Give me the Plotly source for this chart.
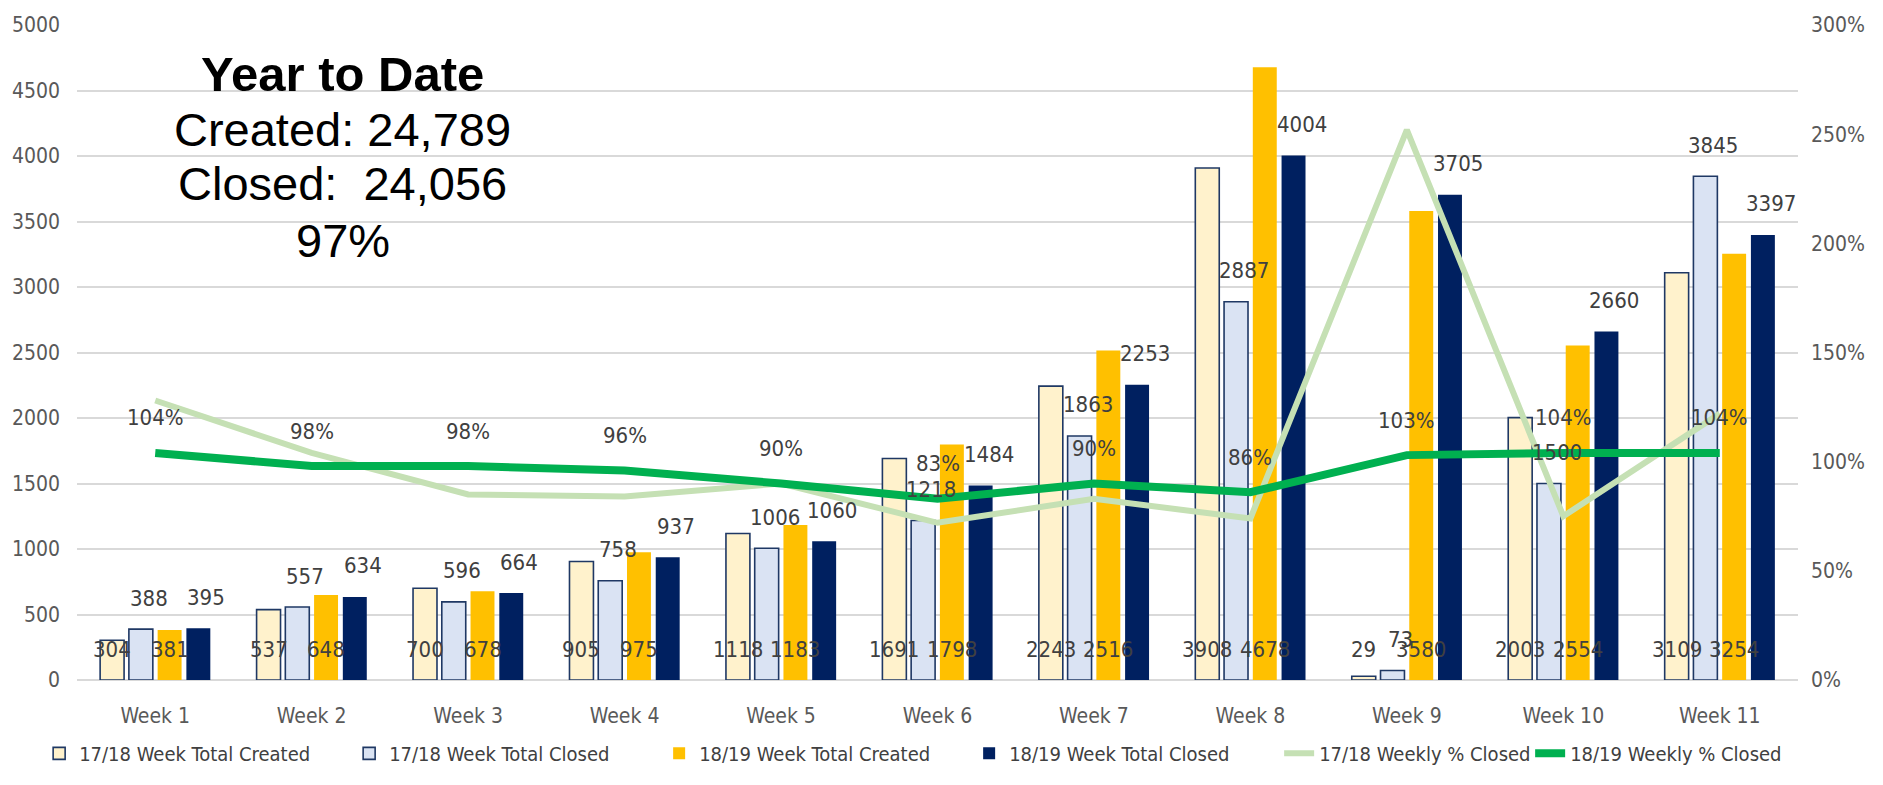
import plotly.graph_objects as go

weeks = ["Week 1", "Week 2", "Week 3", "Week 4", "Week 5", "Week 6",
         "Week 7", "Week 8", "Week 9", "Week 10", "Week 11"]
created_1718 = [304, 537, 700, 905, 1118, 1691, 2243, 3908, 29, 2003, 3109]
closed_1718 = [388, 557, 596, 758, 1006, 1218, 1863, 2887, 73, 1500, 3845]
created_1819 = [381, 648, 678, 975, 1183, 1798, 2516, 4678, 3580, 2554, 3254]
closed_1819 = [395, 634, 664, 937, 1060, 1484, 2253, 4004, 3705, 2660, 3397]
pct_closed_1718 = [1.28, 1.04, 0.85, 0.84, 0.90, 0.72, 0.83, 0.74, 2.52, 0.75, 1.22]
pct_closed_1819 = [1.04, 0.98, 0.98, 0.96, 0.90, 0.83, 0.90, 0.86, 1.03, 1.04, 1.04]
ytd_lines = ["<b>Year to Date</b>", "Created:\u00a024,789", "Closed:\u00a0\u00a024,056", "97%"]

NARROW = "DejaVu Sans Condensed, Liberation Sans Narrow, Arial Narrow, sans-serif"
LABEL_COLOR = "#404040"
TICK_COLOR = "#595959"
NAVY = "#002060"
BORDER = "#1F3864"

BARGAP = 0.265
GROUPGAP = 0.167
slot = (1 - BARGAP) / 4

fig = go.Figure()
bar_specs = [
    ("17/18 Week Total Created", created_1718, "#FFF2CC", BORDER, 1.6),
    ("17/18 Week Total Closed", closed_1718, "#DAE3F3", BORDER, 1.6),
    ("18/19 Week Total Created", created_1819, "#FFC000", "#FFC000", 0),
    ("18/19 Week Total Closed", closed_1819, NAVY, NAVY, 0),
]
for name, vals, col, lc, lw in bar_specs:
    fig.add_trace(go.Bar(
        x=weeks, y=vals, name=name,
        marker=dict(color=col, line=dict(color=lc, width=lw)),
        legendwidth=265,
    ))

fig.add_trace(go.Scatter(
    x=weeks, y=pct_closed_1718, name="17/18 Weekly % Closed", yaxis="y2",
    mode="lines", line=dict(color="#C5E0B4", width=6), legendwidth=206,
))
fig.add_trace(go.Scatter(
    x=weeks, y=pct_closed_1819, name="18/19 Weekly % Closed", yaxis="y2",
    mode="lines", line=dict(color="#00B050", width=8),
))

annotations = []
lab_font = dict(family=NARROW, size=22, color=LABEL_COLOR)
for k in range(len(weeks)):
    # inside-base labels for "created" bars
    for i, vals in ((0, created_1718), (2, created_1819)):
        annotations.append(dict(
            x=k + (i - 1.5) * slot, y=0, xref="x", yref="y",
            text=str(vals[k]), showarrow=False, yshift=31, font=lab_font))
    # outside-end labels for "closed" bars
    for i, vals in ((1, closed_1718), (3, closed_1819)):
        annotations.append(dict(
            x=k + (i - 1.5) * slot, y=vals[k], xref="x", yref="y",
            text=str(vals[k]), showarrow=False, yshift=31, xshift=8, font=lab_font))
    annotations.append(dict(
        x=k, y=pct_closed_1819[k], xref="x", yref="y2",
        text=f"{round(pct_closed_1819[k] * 100)}%", showarrow=False, yshift=35,
        font=lab_font))

ytd_y = [0.925, 0.841, 0.758, 0.671]
ytd_size = [49, 47, 47, 47]
for txt, yy, sz in zip(ytd_lines, ytd_y, ytd_size):
    annotations.append(dict(
        x=0.1543, y=yy, xref="paper", yref="paper", text=txt, showarrow=False,
        xanchor="center", yanchor="middle",
        font=dict(family="Liberation Sans, Arial, sans-serif", size=sz, color="#000000")))

fig.update_layout(
    width=1883, height=785,
    margin=dict(l=74, r=85, t=25, b=105),
    paper_bgcolor="white", plot_bgcolor="white",
    barmode="group", bargap=BARGAP, bargroupgap=GROUPGAP,
    font=dict(family=NARROW, size=21, color=TICK_COLOR),
    showlegend=True,
    legend=dict(orientation="h", x=-0.022, xanchor="left", y=-0.112, yanchor="middle",
                font=dict(family=NARROW, size=20, color=LABEL_COLOR),
                bgcolor="rgba(0,0,0,0)", traceorder="normal"),
    xaxis=dict(showgrid=False, showline=False, ticks="", ticklabelstandoff=21,
               tickfont=dict(family=NARROW, size=21, color=TICK_COLOR)),
    yaxis=dict(range=[0, 5000], dtick=500, showgrid=True, gridcolor="#D9D9D9",
               gridwidth=1.5, zeroline=True, zerolinecolor="#D9D9D9", zerolinewidth=1.5,
               showline=False, ticks="", ticklabelstandoff=16,
               tickfont=dict(family=NARROW, size=21, color=TICK_COLOR)),
    yaxis2=dict(range=[0, 3], tickvals=[0, 0.5, 1, 1.5, 2, 2.5, 3], tickformat=".0%",
                overlaying="y", side="right", showgrid=False, zeroline=False,
                showline=False, ticks="", ticklabelstandoff=12,
                tickfont=dict(family=NARROW, size=21, color=TICK_COLOR)),
    annotations=annotations,
)

fig.write_html("out.html")
